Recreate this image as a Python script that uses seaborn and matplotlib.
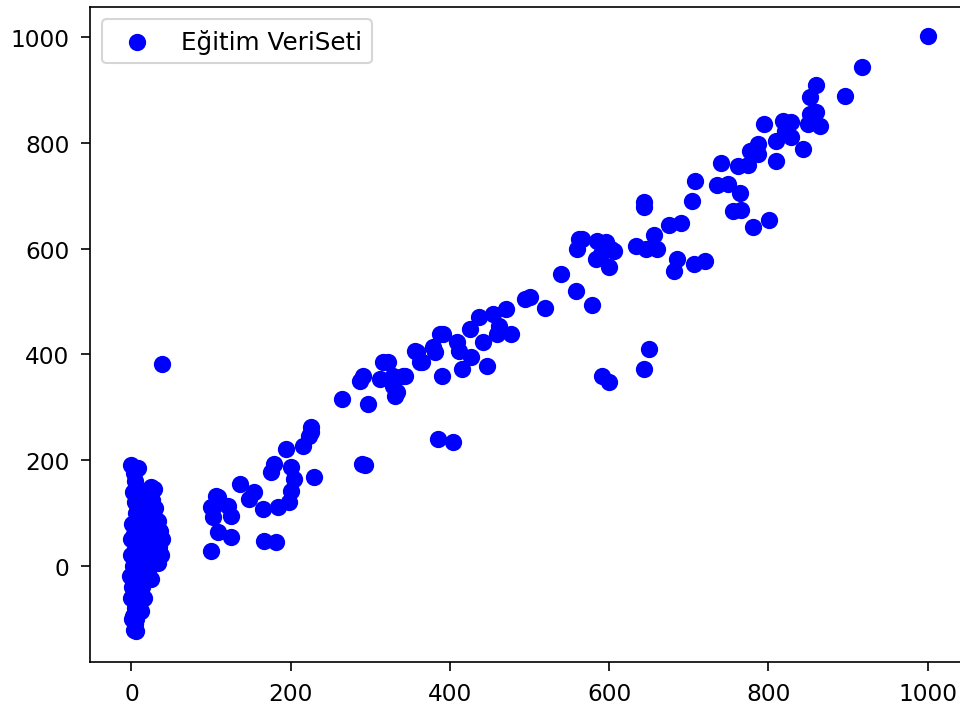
import matplotlib
matplotlib.use("Agg")
import matplotlib.pyplot as plt
import seaborn as sns
import pandas as pd

label_name = "Eğitim VeriSeti"

cluster_x = [0, 3, 5, 2, 4, 6, 1, 3, 5, 0, 2, 4, 1, 3, 5, 2, 4, 3, 8, 10, 12, 9, 11, 8, 10, 7, 6,
             15, 17, 14, 16, 18, 13, 24, 28, 26, 30, 27, 31, 25, 29, 27, 22, 33, 36, 38, 35, 37, 33,
             20, 21, -1, -2, 0, 1, 6, 12, 16, 19, 24, 38]
cluster_y = [190, 175, 160, 140, 120, 100, 80, 60, 40, 20, 0, -20, -40, -60, -80, -95, -110, -122,
             185, 130, 90, 50, 10, -30, -55, -75, -100,
             140, 110, 70, 30, -10, -40, 150, 145, 125, 110, 90, 70, 50, 30, 10, -5, 85, 65, 50, 35,
             20, 5, 60, 100, 50, -20, -60, -100, -123, -85, -60, 40, -25, 382]

low_x = [100, 109, 125, 166, 181, 102, 125, 104, 121, 109, 100, 106, 137, 154, 148, 165, 184, 198,
         200, 204, 229, 175, 179, 200, 194, 216, 223, 225, 225]
low_y = [28, 64, 55, 47, 45, 93, 95, 113, 113, 130, 111, 132, 155, 140, 127, 108, 112, 121,
         142, 164, 168, 178, 193, 187, 221, 227, 246, 263, 253]

mid_x = [265, 297, 291, 287, 316, 312, 329, 341, 331, 322, 329, 344, 334, 290, 294,
         356, 365, 381, 390, 387, 391, 409, 412, 379, 359, 362, 427, 415, 447, 425, 437, 454,
         462, 477, 459, 441, 471, 494, 500, 519, 385, 404]
mid_y = [316, 306, 359, 350, 385, 353, 340, 359, 321, 385, 359, 359, 329, 193, 190,
         406, 385, 404, 359, 438, 438, 423, 406, 414, 404, 385, 395, 372, 378, 448, 471, 476,
         454, 438, 438, 423, 486, 505, 508, 488, 240, 234]

high_x = [540, 559, 579, 562, 560, 566, 585, 596, 606, 583, 600, 590, 602, 591, 600, 644, 650,
          634, 646, 660, 656, 644, 644, 675, 690, 685, 681, 706, 721, 704, 708, 735, 749, 764,
          756, 766, 781, 801, 741, 762, 775, 787, 777, 787, 809, 809, 794, 819, 829, 821, 829,
          844, 850, 865, 852, 860, 852, 860, 896, 917, 1000]
high_y = [552, 520, 493, 618, 599, 618, 614, 612, 595, 580, 565, 590, 600, 359, 348, 372, 410,
          605, 599, 599, 626, 688, 679, 644, 648, 580, 558, 571, 576, 690, 728, 720, 722, 705,
          671, 673, 641, 654, 762, 756, 758, 779, 784, 797, 803, 765, 835, 841, 839, 822, 811,
          788, 835, 832, 854, 858, 886, 909, 888, 943, 1002]

x_vals = cluster_x + low_x + mid_x + high_x
y_vals = cluster_y + low_y + mid_y + high_y
df = pd.DataFrame({"x": x_vals, "y": y_vals})

plt.rcParams['font.family'] = ['DejaVu Sans']
fig = plt.figure(figsize=(6.4, 707 / 150), dpi=150)
W, H = 960, 707
ax = fig.add_axes([90 / W, (H - 662.5) / H, (969 - 90) / W, (662.5 - 7.5) / H])

sns.scatterplot(data=df, x="x", y="y", ax=ax, color="blue", edgecolor="blue",
                linewidth=1.5, s=46, label=label_name, legend=False)
ax.legend(loc="upper left", fontsize=11.8)
ax.set_xlim(-52, 1052)
ax.set_ylim(-181, 1058)
ax.set_xticks([0, 200, 400, 600, 800, 1000])
ax.set_yticks([0, 200, 400, 600, 800, 1000])
ax.set_xlabel("")
ax.set_ylabel("")
ax.tick_params(labelsize=11.2, length=4.3, pad=5.5)

fig.savefig("out.png", dpi=150)
